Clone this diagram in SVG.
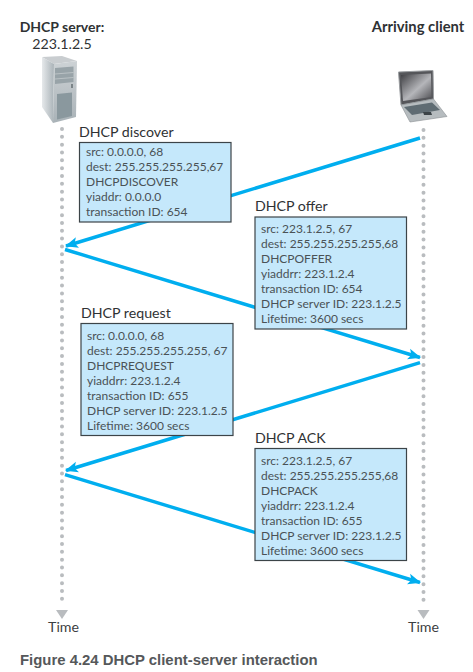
<svg xmlns="http://www.w3.org/2000/svg" width="473" height="672" viewBox="0 0 473 672">
<defs>
<linearGradient id="tower" x1="0" y1="0" x2="1" y2="0"><stop offset="0" stop-color="#e6e9eb"/><stop offset="1" stop-color="#aab3b8"/></linearGradient>
<linearGradient id="front" x1="0" y1="0" x2="0" y2="1"><stop offset="0" stop-color="#cdd2d5"/><stop offset="1" stop-color="#a9b2b7"/></linearGradient>
<linearGradient id="screen" x1="0" y1="0" x2="1" y2="1"><stop offset="0" stop-color="#3c3c40"/><stop offset="0.55" stop-color="#b5b6ba"/><stop offset="1" stop-color="#4a4a4e"/></linearGradient>
<marker id="head" markerUnits="userSpaceOnUse" markerWidth="14" markerHeight="12" refX="12" refY="6" orient="auto"><path d="M0 0.500L13 6L0 11.500L3 6Z" fill="#00aeef"/></marker>
</defs>
<style>
text{font-family:Lato,"Open Sans","Liberation Sans",sans-serif}
.h{font-size:14.2px;fill:#2f3234}
.b{font-size:12px;fill:#4a5256}
.hb{font-size:14px;font-weight:700;fill:#2f3234}
.box{fill:#c5e8fb;stroke:#3c4448;stroke-width:1.2}
.life{fill:none;stroke:#b9bcbf;stroke-width:4;stroke-linecap:round;stroke-dasharray:0 7.83}
.msg{fill:none;stroke:#00aeef;stroke-width:3.4}
.t{font-size:14.2px;fill:#3c4042}
</style>

<g id="connectors">
<line class="life" x1="62" y1="129" x2="62" y2="606"/>
<line class="life" x1="423.500" y1="130" x2="423.500" y2="606"/>
<path d="M56 610H68L62 619Z" fill="#b9bcbf"/>
<path d="M417.500 610H429.500L423.500 619Z" fill="#b9bcbf"/>
<line class="msg" x1="420" y1="138" x2="66" y2="246" marker-end="url(#head)"/>
<line class="msg" x1="65" y1="249.500" x2="420" y2="357.500" marker-end="url(#head)"/>
<line class="msg" x1="420" y1="362.700" x2="66" y2="470.500" marker-end="url(#head)"/>
<line class="msg" x1="65" y1="474.700" x2="420" y2="582.500" marker-end="url(#head)"/>
</g>

<g id="server">
<text class="hb" x="62" y="31.500" text-anchor="middle">DHCP server:</text>
<text class="h" x="62" y="49" text-anchor="middle">223.1.2.5</text>
<path d="M42 57L62 56L77 61L54 64Z" fill="#c9cdd0"/>
<path d="M42 57L54 64L53 123L42 107Z" fill="url(#tower)"/>
<path d="M54 64L77 61L76 117L53 123Z" fill="url(#front)"/>
<path d="M55 68L73.500 66.500V82L55 84Z" fill="#98a3a8"/>
<path d="M55 74L73.500 72.500M55 79L73.500 77.500" stroke="#c3c9cc" stroke-width="0.8"/>
<path d="M57 94L72 92.500V116L57 119.500Z" fill="#8a989e"/>
<path d="M71 84H73V88H71Z" fill="#7b8488"/>
</g>

<g id="client">
<text class="hb" x="418" y="31.500" text-anchor="middle" style="font-size:14.800px">Arriving client</text>
<path d="M398.500 72L433 70.500L433.500 99L401 105Z" fill="#55565a" stroke="#9b9ea1"/>
<path d="M401 75L431 73.500L431.500 97L403 101Z" fill="url(#screen)"/>
<path d="M401 105L433.500 99L447 116.500L410 122Z" fill="#b6bcbf" stroke="#8a8f92" stroke-width="0.6"/>
<path d="M404 107L432 102.500L440 110L412 115Z" fill="#5f6c73"/>
<path d="M423 112H431L432 115H424Z" fill="#3c4448"/>
</g>

<g id="discover">
<text class="h" x="79" y="137">DHCP discover</text>
<rect class="box" x="79.500" y="142.500" width="151.500" height="79.500"/>
<text class="b" x="86" y="156">src: 0.0.0.0, 68</text>
<text class="b" x="86" y="171">dest: 255.255.255.255,67</text>
<text class="b" x="86" y="186">DHCPDISCOVER</text>
<text class="b" x="86" y="201">yiaddr: 0.0.0.0</text>
<text class="b" x="86" y="216">transaction ID: 654</text>
</g>

<g id="offer">
<text class="h" x="255" y="211">DHCP offer</text>
<rect class="box" x="255" y="217" width="151.500" height="112"/>
<text class="b" x="261" y="233">src: 223.1.2.5, 67</text>
<text class="b" x="261" y="248">dest: 255.255.255.255,68</text>
<text class="b" x="261" y="263">DHCPOFFER</text>
<text class="b" x="261" y="278">yiaddrr: 223.1.2.4</text>
<text class="b" x="261" y="293">transaction ID: 654</text>
<text class="b" x="261" y="308">DHCP server ID: 223.1.2.5</text>
<text class="b" x="261" y="323">Lifetime: 3600 secs</text>
</g>

<g id="request">
<text class="h" x="81" y="318">DHCP request</text>
<rect class="box" x="81" y="323.500" width="152" height="112"/>
<text class="b" x="87" y="340">src: 0.0.0.0, 68</text>
<text class="b" x="87" y="355">dest: 255.255.255.255, 67</text>
<text class="b" x="87" y="370">DHCPREQUEST</text>
<text class="b" x="87" y="385">yiaddrr: 223.1.2.4</text>
<text class="b" x="87" y="400">transaction ID: 655</text>
<text class="b" x="87" y="415">DHCP server ID: 223.1.2.5</text>
<text class="b" x="87" y="430">Lifetime: 3600 secs</text>
</g>

<g id="ack">
<text class="h" x="255" y="443">DHCP ACK</text>
<rect class="box" x="255" y="448.500" width="151.500" height="112"/>
<text class="b" x="261" y="465">src: 223.1.2.5, 67</text>
<text class="b" x="261" y="480">dest: 255.255.255.255,68</text>
<text class="b" x="261" y="495">DHCPACK</text>
<text class="b" x="261" y="510">yiaddrr: 223.1.2.4</text>
<text class="b" x="261" y="525">transaction ID: 655</text>
<text class="b" x="261" y="540">DHCP server ID: 223.1.2.5</text>
<text class="b" x="261" y="555">Lifetime: 3600 secs</text>
</g>

<g id="time-left"><text class="t" x="63.500" y="632" text-anchor="middle">Time</text></g>
<g id="time-right"><text class="t" x="423.500" y="632" text-anchor="middle">Time</text></g>
<g id="caption"><text x="20" y="665" style="font-family:'Liberation Sans',Arial,sans-serif;font-size:14.9px;font-weight:700;fill:#55585a">Figure 4.24 DHCP client-server interaction</text></g>
</svg>
